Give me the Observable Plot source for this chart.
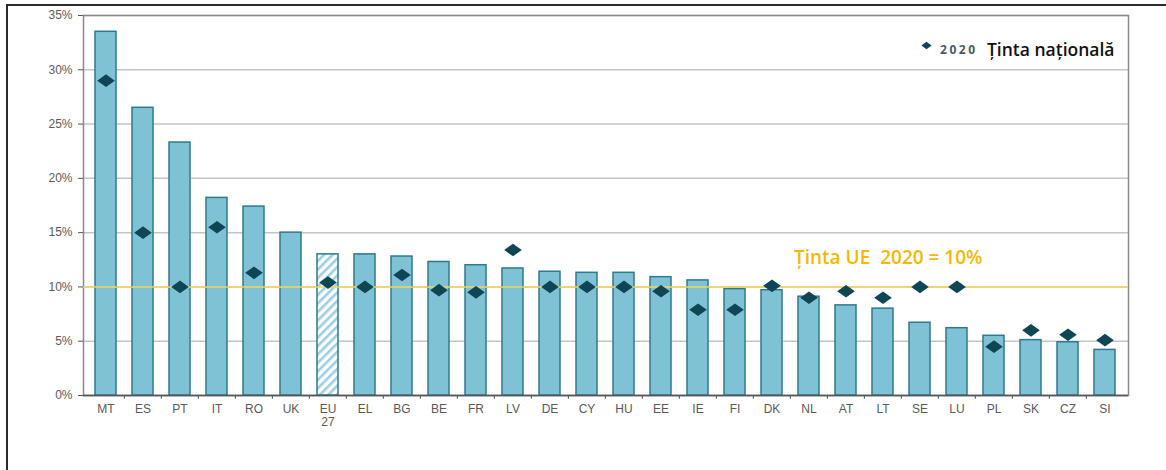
<!DOCTYPE html>
<html>
<head>
<meta charset="utf-8">
<script src="https://cdn.jsdelivr.net/npm/d3@7"></script>
<script src="https://cdn.jsdelivr.net/npm/@observablehq/plot@0.6"></script>
<style>
  html, body { margin: 0; padding: 0; background: #fff; overflow: hidden; }
  #wrap { position: relative; width: 1166px; height: 470px; }
  #outer { position: absolute; left: 6px; top: 4px; width: 1200px; height: 520px; border: 2px solid #2b2b2b; pointer-events: none; }
</style>
</head>
<body>
<div id="wrap"><div id="outer"></div></div>
<script>
const countries = ["MT","ES","PT","IT","RO","UK","EU27","EL","BG","BE","FR","LV","DE","CY","HU","EE","IE","FI","DK","NL","AT","LT","SE","LU","PL","SK","CZ","SI"];
const labels = ["MT","ES","PT","IT","RO","UK","EU\n27","EL","BG","BE","FR","LV","DE","CY","HU","EE","IE","FI","DK","NL","AT","LT","SE","LU","PL","SK","CZ","SI"];
const shares = [33.5,26.5,23.3,18.2,17.4,15.0,13.0,13.0,12.8,12.3,12.0,11.7,11.4,11.3,11.3,10.9,10.6,9.8,9.7,9.1,8.3,8.0,6.7,6.2,5.5,5.1,4.9,4.2];
const targets = [29.0,15.0,10.0,15.5,11.3,null,10.4,10.0,11.1,9.7,9.5,13.4,10.0,10.0,10.0,9.6,7.9,7.9,10.1,9.0,9.6,9.0,10.0,10.0,4.5,6.0,5.6,5.1];
const yTicks = [0,5,10,15,20,25,30,35];
const euTarget = 10;
const euLabel = "Ținta UE  2020 = 10%";
const legendYear = "2020";
const legendLabel = "Ținta națională";

const rows = countries.map((c, i) => ({country: c, share: shares[i], target: targets[i]}));
const labelOf = new Map(countries.map((c, i) => [c, labels[i]]));

const wideDiamond = {
  draw(ctx, size) {
    const r = Math.sqrt(size / Math.PI);
    const w = r * 1.6, h = r * 1.15;
    ctx.moveTo(-w, 0); ctx.lineTo(0, -h); ctx.lineTo(w, 0); ctx.lineTo(0, h); ctx.closePath();
  }
};

const barFill = "#80c2d5", barStroke = "#2c7a90", dark = "#0f4655";
const step = (1166 - 83 - 38) / (28 - 0.42 + 2 * 0.225);

const chart = Plot.plot({
  width: 1166,
  height: 470,
  marginLeft: 83,
  marginRight: 38,
  marginTop: 15,
  marginBottom: 75,
  style: {fontFamily: "Liberation Sans, Arial, sans-serif", background: "transparent"},
  x: {domain: countries, paddingInner: 0.42, paddingOuter: 0.225, label: null},
  y: {domain: [0, 35], label: null},
  marks: [
    Plot.gridY(yTicks, {stroke: "#c4c4c4", strokeOpacity: 1, strokeWidth: 1.5}),
    Plot.frame({stroke: "#8a8a8a", strokeWidth: 1.5}),
    Plot.barY(rows.filter(d => d.country !== "EU27"), {x: "country", y: "share", fill: barFill, stroke: barStroke, strokeWidth: 1.5}),
    Plot.barY(rows.filter(d => d.country === "EU27"), {x: "country", y: "share", fill: "url(#hatch)", stroke: barStroke, strokeWidth: 1.5}),
    Plot.ruleY([euTarget], {stroke: "#f6d55a", strokeWidth: 1.6}),
    Plot.dot(rows.filter(d => d.target != null), {x: "country", y: "target", symbol: wideDiamond, r: 5.5, fill: dark, stroke: "none"}),
    Plot.ruleY([0], {stroke: "#555", strokeWidth: 1.5}),
    Plot.ruleX(countries.slice(1), {x: d => d, y1: 0, y2: -0.35, dx: -step / 2, stroke: "#555", strokeWidth: 1}),
    Plot.axisY(yTicks, {tickFormat: d => d + "%", tickSize: 5, tickPadding: 6, fontSize: 12, fill: "#5a5a5a", stroke: "#555", label: null}),
    Plot.axisX({tickSize: 0, tickPadding: 8, fontSize: 12, fill: "#5a5a5a", tickFormat: d => labelOf.get(d), lineHeight: 1.1, label: null}),
    Plot.text([euLabel], {x: () => "NL", y: () => 12.7, text: d => d, dx: -15, textAnchor: "start", fill: "#f5b800", fontSize: 19, fontWeight: 600, fontFamily: "Open Sans, sans-serif"}),
    Plot.dot([legendYear], {frameAnchor: "top-right", dx: -202, dy: 30, symbol: wideDiamond, r: 3.2, fill: dark}),
    Plot.text([legendYear], {frameAnchor: "top-right", text: d => d, dx: -151, dy: 30, textAnchor: "end", fill: "#4a5a60", fontSize: 12, fontWeight: 700, fontFamily: "Open Sans, sans-serif"}),
    Plot.text([legendLabel], {frameAnchor: "top-right", text: d => d, dx: -14, dy: 28, textAnchor: "end", fill: "#111", fontSize: 17.5, fontWeight: 600, fontFamily: "Open Sans, sans-serif"})
  ]
});

const ns = "http://www.w3.org/2000/svg";
const defs = document.createElementNS(ns, "defs");
defs.innerHTML = `<pattern id="hatch" patternUnits="userSpaceOnUse" width="6" height="6" patternTransform="rotate(45)">
  <rect width="6" height="6" fill="#ffffff"></rect>
  <rect width="2.6" height="6" fill="#9ccfe0"></rect>
</pattern>`;
chart.insertBefore(defs, chart.firstChild);
d3.select(chart).selectAll("text").filter(function () { return this.textContent === legendYear; }).attr("letter-spacing", "2.5");
chart.style.position = "absolute";
chart.style.left = "0px";
chart.style.top = "0px";
document.getElementById("wrap").insertBefore(chart, document.getElementById("outer"));
</script>
</body>
</html>
